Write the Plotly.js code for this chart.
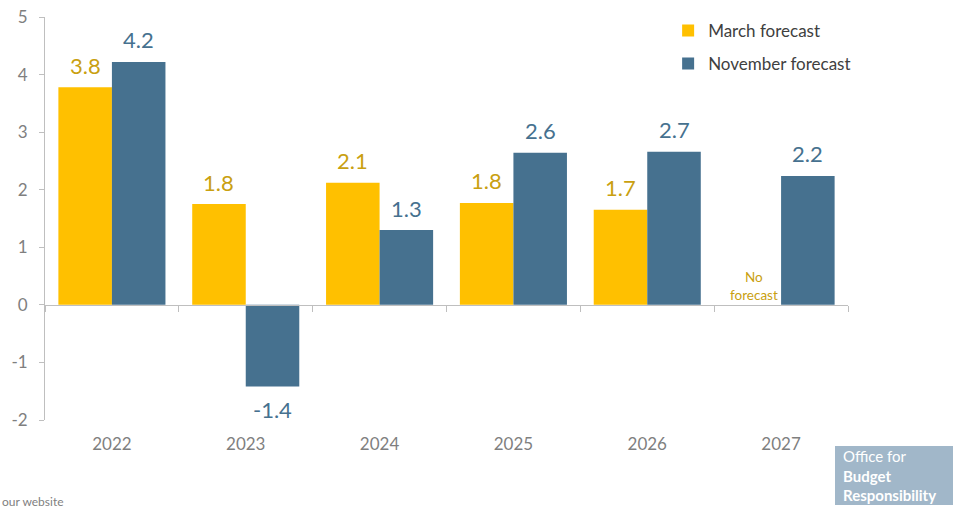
<!DOCTYPE html>
<html>
<head>
<meta charset="utf-8">
<script src="https://cdn.plot.ly/plotly-3.0.1.min.js"></script>
<style>
  html, body { margin: 0; padding: 0; background: #fff; }
  #chart { width: 960px; height: 511px; }
</style>
</head>
<body>
<div id="chart"></div>
<script>
// values (per cent)
var years = ['2022', '2023', '2024', '2025', '2026', '2027'];
var marchForecast = [3.78, 1.75, 2.12, 1.77, 1.65, null];
var novemberForecast = [4.22, -1.42, 1.30, 2.64, 2.66, 2.24];
var marchLabels = ['3.8', '1.8', '2.1', '1.8', '1.7', ''];
var novemberLabels = ['4.2', '-1.4', '1.3', '2.6', '2.7', '2.2'];
var yTicks = [-2, -1, 0, 1, 2, 3, 4, 5];
var yTickText = ['-2', '-1', '0', '1', '2', '3', '4', '5'];

var gold = '#FFC000';
var goldText = '#C9A010';
var blue = '#46718F';

var traces = [
  {
    type: 'bar', name: 'March forecast', legendgroup: 'm',
    x: years, y: marchForecast,
    marker: { color: gold }
  },
  {
    type: 'bar', name: 'November forecast', legendgroup: 'n',
    x: years, y: novemberForecast,
    marker: { color: blue }
  }
];

// value labels sit a little further off the bars than plotly's own outside text
var halfBar = 26.8;
var annotations = [];
function addLabels(vals, labels, color, side) {
  vals.forEach(function (v, i) {
    if (v === null || !labels[i]) return;
    annotations.push({
      x: i, y: v, xref: 'x', yref: 'y',
      xshift: side * halfBar, yanchor: 'middle',
      yshift: v >= 0 ? 22 : -23,
      text: labels[i], showarrow: false,
      font: { size: 22, color: color }
    });
  });
}
addLabels(marchForecast, marchLabels, goldText, -1);
addLabels(novemberForecast, novemberLabels, blue, 1);

annotations.push(
  {
    x: years.indexOf('2027'), y: 0, xref: 'x', yref: 'y',
    xshift: -halfBar, yanchor: 'bottom', yshift: 0,
    text: 'No<br>forecast', showarrow: false,
    font: { size: 13.5, color: goldText }
  },
  {
    x: 0, y: 0, xref: 'paper', yref: 'paper',
    xshift: -45, yshift: -91, xanchor: 'left', yanchor: 'bottom',
    text: 'our website', showarrow: false,
    font: { size: 12, color: '#7f7f7f' }
  },
  {
    x: 1, y: 0, xref: 'paper', yref: 'paper',
    xshift: -6, yshift: -55, xanchor: 'left', yanchor: 'middle',
    align: 'left', borderpad: 0,
    text: 'Office for<br><b>Budget</b><br><b>Responsibility</b>',
    showarrow: false,
    font: { size: 15, color: '#ffffff' }
  }
);

var layout = {
  width: 960, height: 511,
  margin: { l: 45, r: 112, t: 17, b: 91 },
  paper_bgcolor: '#fff', plot_bgcolor: '#fff',
  font: { family: 'Lato, "Open Sans", sans-serif', color: '#7f7f7f' },
  barmode: 'group', bargap: 0.2, bargroupgap: 0,
  showlegend: true,
  legend: {
    x: 0.776, y: 1.01, xanchor: 'left', yanchor: 'top',
    traceorder: 'grouped', tracegroupgap: 8,
    font: { size: 17, color: '#404040' },
    itemwidth: 30
  },
  xaxis: {
    type: 'category',
    anchor: 'free', position: 2 / 7,
    showline: true, linecolor: '#bfbfbf', linewidth: 1,
    ticks: 'outside', tickson: 'boundaries', ticklen: 6, tickcolor: '#bfbfbf',
    showgrid: false, zeroline: false,
    ticklabelstandoff: 124,
    tickfont: { size: 17, color: '#7f7f7f' }
  },
  yaxis: {
    range: [-2, 5],
    tickvals: yTicks, ticktext: yTickText,
    showline: true, linecolor: '#bfbfbf', linewidth: 1,
    ticks: 'outside', ticklen: 5, tickcolor: '#bfbfbf',
    showgrid: false, zeroline: false,
    ticklabelstandoff: 8,
    tickfont: { size: 17, color: '#7f7f7f' }
  },
  shapes: [
    {
      type: 'rect', xref: 'paper', yref: 'paper', layer: 'below',
      xsizemode: 'pixel', xanchor: 1, x0: -13, x1: 105,
      ysizemode: 'pixel', yanchor: 0, y0: -85, y1: -26,
      fillcolor: '#A1B7C9', line: { width: 0 }
    }
  ],
  annotations: annotations
};

Plotly.newPlot('chart', traces, layout, { displayModeBar: false, staticPlot: true });
</script>
</body>
</html>
